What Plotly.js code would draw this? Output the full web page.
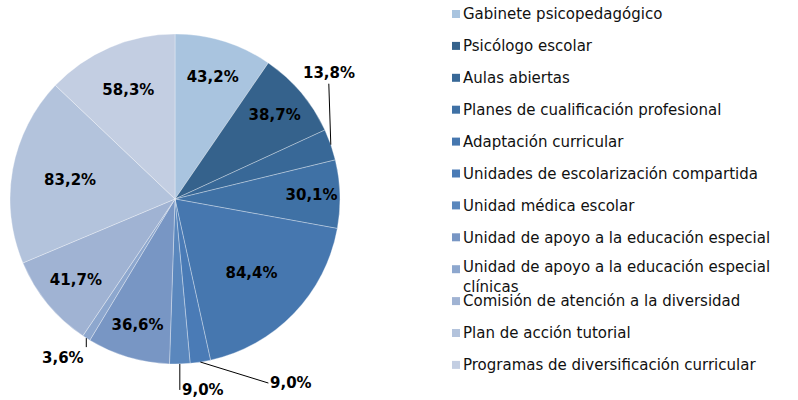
<!DOCTYPE html>
<html>
<head>
<meta charset="utf-8">
<script src="https://cdn.plot.ly/plotly-3.0.1.min.js"></script>
<style>html,body{margin:0;padding:0;background:#fff;}#chart{width:798px;height:400px;}</style>
</head>
<body>
<div id="chart"></div>
<script>
// ---- data ----
var categories = [
  "Gabinete psicopedagógico",
  "Psicólogo escolar",
  "Aulas abiertas",
  "Planes de cualificación profesional",
  "Adaptación curricular",
  "Unidades de escolarización compartida",
  "Unidad médica escolar",
  "Unidad de apoyo a la educación especial",
  "Unidad de apoyo a la educación especial<br>clínicas",
  "Comisión de atención a la diversidad",
  "Plan de acción tutorial",
  "Programas de diversificación curricular"
];
var values = [43.2, 38.7, 13.8, 30.1, 84.4, 9.0, 9.0, 36.6, 3.6, 41.7, 83.2, 58.3];

// ---- styles ----
var colors = ["#A9C4DF", "#35628C", "#386897", "#3F71A5", "#4677AF", "#4A7BB6",
              "#5A87BD", "#7896C4", "#8DA7CE", "#A0B3D3", "#B3C3DC", "#C3CEE2"];
var FONT = "DejaVu Sans, Verdana, sans-serif";
var W = 798, H = 400;
var pieBox = {x0: 10, x1: 340, y0: 34, y1: 364}; // pixels
var R = (pieBox.x1 - pieBox.x0) / 2;
var cx = (pieBox.x0 + pieBox.x1) / 2, cy = (pieBox.y0 + pieBox.y1) / 2;
// outside-label placement for small slices (index -> offsets, anchors)
var outside = {
  2: {ax: -2, ay: -61, xanchor: "center", yanchor: "bottom"},
  5: {ax: 68, ay: 21, xanchor: "left", yanchor: "middle"},
  6: {ax: 0, ay: 26, xanchor: "left", yanchor: "middle"},
  8: {ax: 0, ay: 9, xanchor: "right", yanchor: "top"}
};

function fmt(v) { return v.toFixed(1).replace(".", ",") + "%"; }

var total = values.reduce(function (a, b) { return a + b; }, 0);
var textpos = values.map(function (v, i) { return outside[i] ? "none" : "inside"; });

var annotations = [];
var shapes = [];
var cum = 0;
values.forEach(function (v, i) {
  var mid = (cum + v / 2) / total * 2 * Math.PI;
  cum += v;
  if (outside[i]) {
    var o = outside[i];
    var px = cx + R * Math.sin(mid), py = cy - R * Math.cos(mid);
    annotations.push({
      xref: "paper", yref: "paper", x: px / W, y: 1 - py / H,
      text: "<b>" + fmt(v) + "</b>", showarrow: true, arrowhead: 0, arrowwidth: 1,
      arrowcolor: "#000", standoff: 0, ax: o.ax, ay: o.ay,
      xanchor: o.xanchor, yanchor: o.yanchor,
      font: {family: FONT, size: 15, color: "#000"}
    });
  }
});

// legend built from categories/colors
var legX = 452, legY0 = 14, legStep = 31.9, sq = 8, fs = 15;
categories.forEach(function (c, i) {
  var yc = legY0 + legStep * i;
  var nLines = c.split("<br>").length;
  shapes.push({
    type: "rect", xref: "paper", yref: "paper",
    x0: legX / W, x1: (legX + sq) / W,
    y0: 1 - (yc + sq / 2) / H, y1: 1 - (yc - sq / 2) / H,
    fillcolor: colors[i], line: {width: 0}
  });
  annotations.push({
    xref: "paper", yref: "paper", x: (legX + sq + 2) / W,
    y: 1 - (yc - fs * 0.65 - (nLines > 1 ? 2 : 0)) / H,
    xanchor: "left", yanchor: "top", align: "left", showarrow: false, borderpad: 0,
    text: c, font: {family: FONT, size: fs, color: "#111"}
  });
});

var trace = {
  type: "pie",
  labels: categories,
  values: values,
  text: values.map(fmt),
  textinfo: "text",
  texttemplate: "<b>%{text}</b>",
  textposition: textpos,
  insidetextorientation: "horizontal",
  sort: false,
  direction: "clockwise",
  rotation: 0,
  marker: {colors: colors, line: {color: "rgba(255,255,255,0.45)", width: 0.7}},
  textfont: {family: FONT, size: 15, color: "#000"},
  domain: {x: [pieBox.x0 / W, pieBox.x1 / W], y: [1 - pieBox.y1 / H, 1 - pieBox.y0 / H]},
  hoverinfo: "label+text",
  showlegend: false
};

var layout = {
  width: W, height: H,
  margin: {l: 0, r: 0, t: 0, b: 0},
  paper_bgcolor: "#fff",
  showlegend: false,
  separators: ",.",
  annotations: annotations,
  shapes: shapes
};

Plotly.newPlot("chart", [trace], layout, {displayModeBar: false, staticPlot: true});
</script>
</body>
</html>
